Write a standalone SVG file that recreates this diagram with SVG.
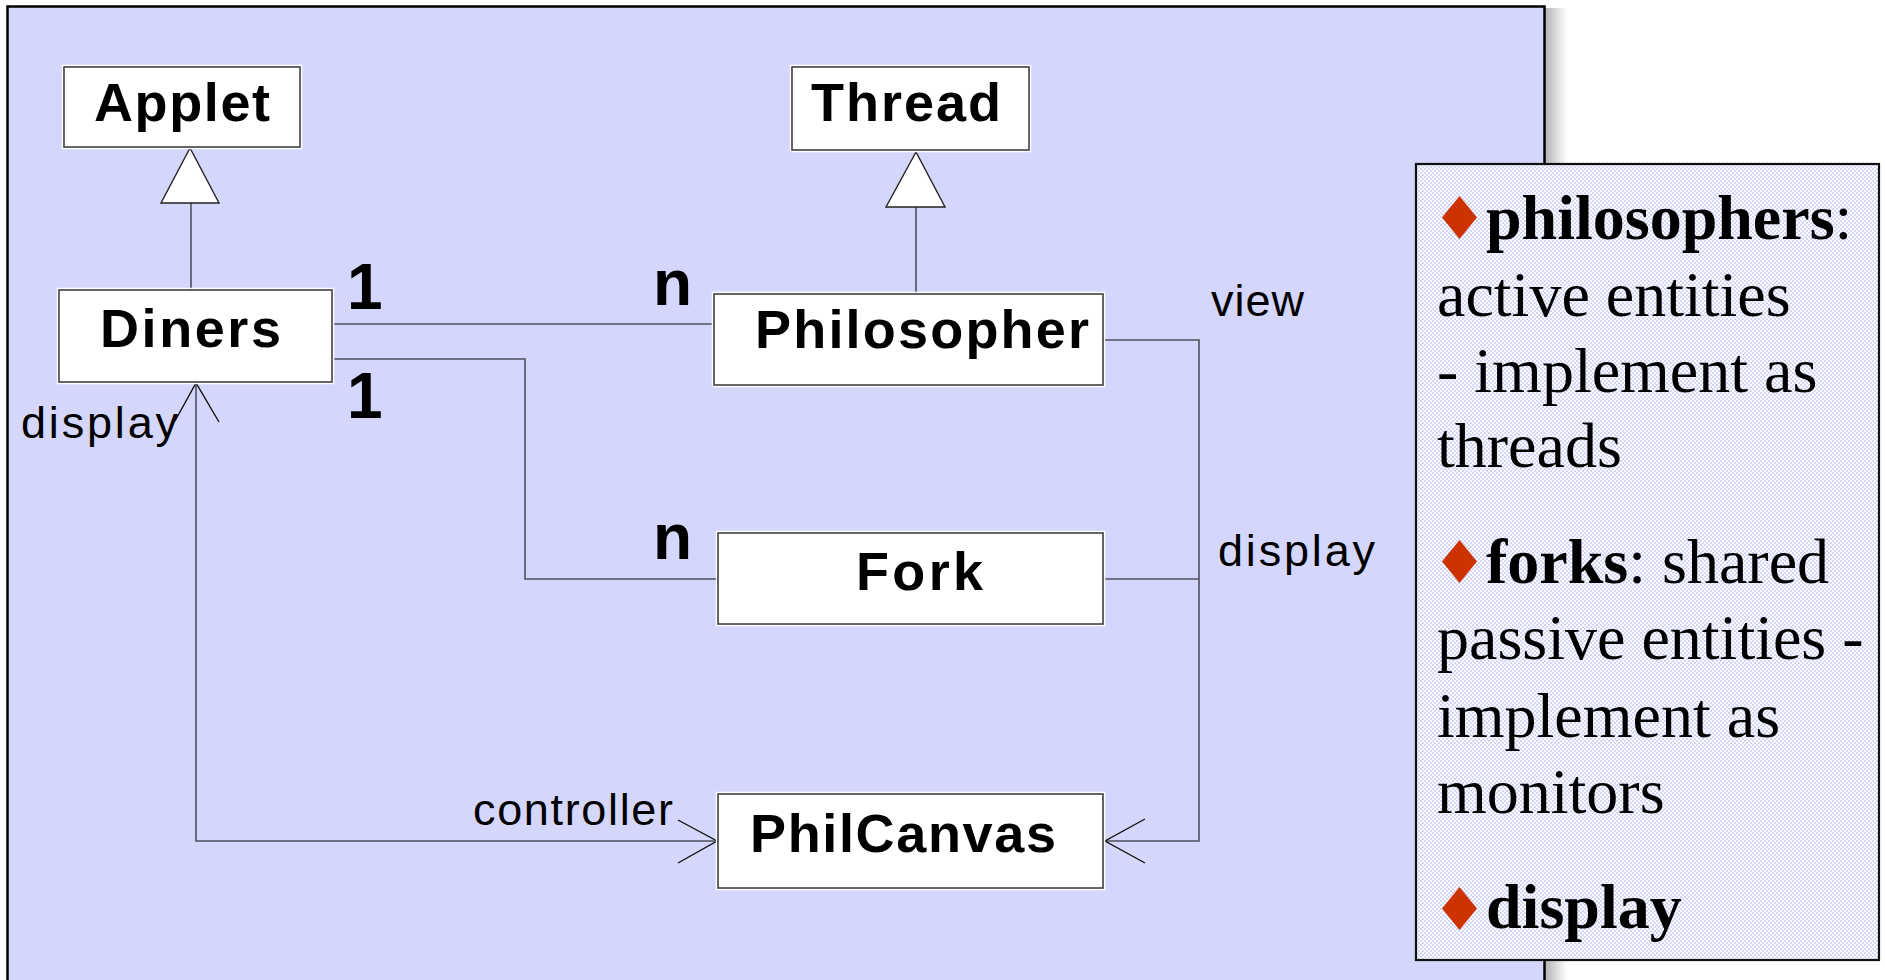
<svg xmlns="http://www.w3.org/2000/svg" width="1885" height="980" viewBox="0 0 1885 980">
<style>
.box{fill:#fff;stroke:#444;stroke-width:1.6}
.halo{fill:none;stroke:#fff;stroke-width:1.5}
.cls{font-family:"Liberation Sans",Arial,sans-serif;font-weight:bold;font-size:54px;fill:#000}
.lbl{font-family:"Liberation Sans",Arial,sans-serif;font-size:45px;fill:#000}
.mul{font-family:"Liberation Sans",Arial,sans-serif;font-weight:bold;font-size:64px;fill:#000}
.con{fill:none;stroke:#505060;stroke-width:1.6}
.arr{fill:none;stroke:#111;stroke-width:1.4}
.gen{fill:#fff;stroke:#222;stroke-width:1.4}
.note{font-family:"Liberation Serif","Times New Roman",serif;font-size:64px;fill:#000}
.b{font-weight:bold}
.dia{fill:#cc3300}
</style>
<defs>
<linearGradient id="shadow" x1="0" y1="0" x2="1" y2="0">
<stop offset="0" stop-color="#b4b4b4"/>
<stop offset="1" stop-color="#ffffff"/>
</linearGradient>
<pattern id="dither" width="4" height="4" patternUnits="userSpaceOnUse">
<rect width="4" height="4" fill="#fdfdff"/>
<rect width="2" height="2" fill="#d5d6fb"/>
<rect x="2" y="2" width="2" height="2" fill="#d5d6fb"/>
</pattern>
</defs>
<rect width="1885" height="980" fill="#fff"/>
<rect x="1545" y="8" width="22" height="972" fill="url(#shadow)"/>
<rect id="frame" x="7.5" y="6.5" width="1537" height="1000" fill="#d5d6fb" stroke="#000" stroke-width="2.5"/>

<g id="connectors">
<line class="con" x1="191" y1="203" x2="191" y2="290"/>
<polygon class="gen" points="190,148 161,203 219,203"/>
<line class="con" x1="916" y1="207" x2="916" y2="294"/>
<polygon class="gen" points="916,152 886,207 945,207"/>
<line class="con" x1="333" y1="324" x2="714" y2="324"/>
<polyline class="con" points="333,359 525,359 525,579 718,579"/>
<polyline class="con" points="1103,340 1199,340 1199,841 1105,841"/>
<polyline class="arr" points="1145,819 1105,841 1145,863"/>
<line class="con" x1="1103" y1="579" x2="1199" y2="579"/>
<polyline class="con" points="196,383 196,841 717,841"/>
<polyline class="arr" points="175,421 196,383 219,422"/>
<polyline class="arr" points="678,820 717,841 678,863"/>
</g>

<g id="applet">
<rect class="halo" x="62.5" y="65.5" width="239" height="83"/>
<rect class="box" x="64" y="67" width="236" height="80"/>
<text class="cls" x="94" y="121" textLength="176">Applet</text>
</g>
<g id="thread">
<rect class="halo" x="790.5" y="65.5" width="240" height="86"/>
<rect class="box" x="792" y="67" width="237" height="83"/>
<text class="cls" x="811" y="121" textLength="190">Thread</text>
</g>
<g id="diners">
<rect class="halo" x="57.5" y="288.5" width="276" height="95"/>
<rect class="box" x="59" y="290" width="273" height="92"/>
<text class="cls" x="100" y="347" textLength="181">Diners</text>
</g>
<g id="philosopher">
<rect class="halo" x="712.5" y="292.5" width="392" height="94"/>
<rect class="box" x="714" y="294" width="389" height="91"/>
<text class="cls" x="755" y="348" textLength="334">Philosopher</text>
</g>
<g id="fork">
<rect class="halo" x="716.5" y="531.5" width="388" height="94"/>
<rect class="box" x="718" y="533" width="385" height="91"/>
<text class="cls" x="856" y="590" textLength="127">Fork</text>
</g>
<g id="philcanvas">
<rect class="halo" x="716.5" y="792.5" width="388" height="97"/>
<rect class="box" x="718" y="794" width="385" height="94"/>
<text class="cls" x="750" y="852" textLength="306">PhilCanvas</text>
</g>

<g id="labels">
<text class="mul" x="347" y="309">1</text>
<text class="mul" x="347" y="418">1</text>
<text class="mul" x="653" y="305">n</text>
<text class="mul" x="653" y="559">n</text>
<text class="lbl" x="1211" y="316" textLength="93">view</text>
<text class="lbl" x="1218" y="566" textLength="157">display</text>
<text class="lbl" x="21" y="438" textLength="157">display</text>
<text class="lbl" x="473" y="825" textLength="200">controller</text>
</g>

<g id="notes">
<rect x="1416" y="164" width="463" height="796" fill="url(#dither)" stroke="#111" stroke-width="2.2"/>
<polygon class="dia" points="1459.5,196 1477,217.5 1459.5,239 1442,217.5"/>
<text class="note" x="1486" y="239"><tspan class="b">philosophers</tspan>:</text>
<text class="note" x="1437" y="316">active entities</text>
<text class="note" x="1437" y="392">- implement as</text>
<text class="note" x="1437" y="467">threads</text>
<polygon class="dia" points="1459.5,540 1477,561.5 1459.5,583 1442,561.5"/>
<text class="note" x="1486" y="583"><tspan class="b">forks</tspan>: shared</text>
<text class="note" x="1437" y="659">passive entities -</text>
<text class="note" x="1437" y="737">implement as</text>
<text class="note" x="1437" y="813">monitors</text>
<polygon class="dia" points="1459.5,887 1477,908.5 1459.5,930 1442,908.5"/>
<text class="note b" x="1486" y="928">display</text>
</g>
</svg>
